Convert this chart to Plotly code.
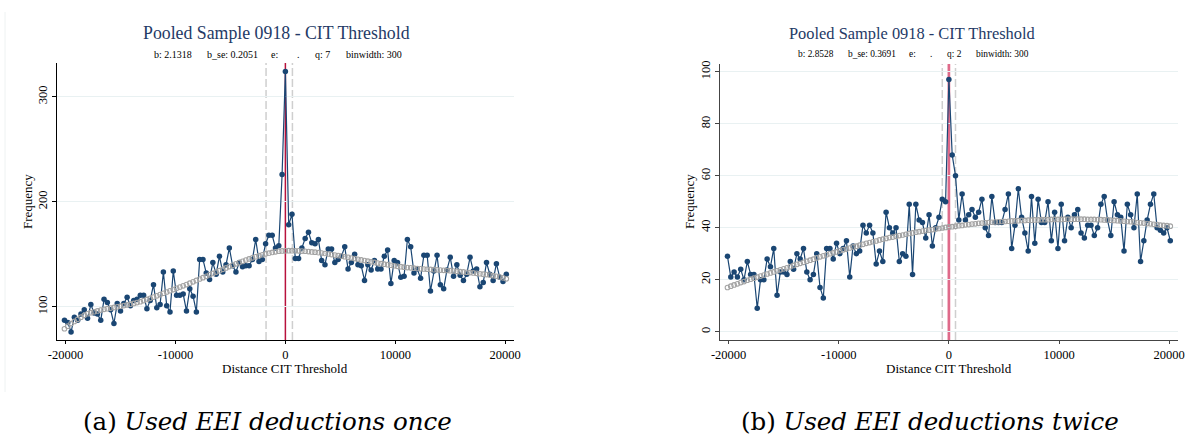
import plotly.graph_objects as go

# ---------------- data ----------------
bins = list(range(-20100, 20101, 300))  # bin centres (binwidth 300)

freq_once = [
    87, 85, 76, 90, 87, 93, 97, 89, 102, 94,
    93, 87, 107, 104, 97, 84, 103, 96, 103, 109,
    101, 106, 107, 111, 111, 98, 106, 121, 99, 102,
    133, 101, 95, 134, 111, 111, 112, 96, 117, 110,
    95, 145, 145, 132, 126, 142, 131, 148, 133, 140,
    156, 139, 133, 142, 138, 139, 139, 145, 164, 143,
    145, 160, 168, 168, 156, 158, 226, 324, 178, 188,
    146, 146, 156, 165, 171, 161, 160, 164, 144, 140,
    155, 155, 142, 145, 148, 157, 136, 142, 150, 140,
    139, 125, 140, 135, 144, 136, 136, 148, 154, 122,
    144, 142, 128, 129, 164, 157, 132, 136, 127, 149,
    149, 115, 134, 149, 121, 117, 135, 147, 129, 140,
    130, 125, 131, 147, 134, 136, 119, 123, 142, 131,
    125, 141, 128, 124, 131,
]

fit_once = [
    79.0, 81.5, 84.0, 86.0, 88.0, 90.0, 91.8, 93.3, 94.3, 95.2,
    96.0, 96.8, 97.5, 98.1, 98.7, 99.3, 99.9, 100.5, 101.1, 101.7,
    102.4, 103.1, 103.9, 104.8, 105.8, 106.9, 108.0, 109.2, 110.4, 111.6,
    112.8, 114.0, 115.2, 116.3, 117.5, 118.7, 119.9, 121.1, 122.4, 123.7,
    125.0, 126.4, 127.7, 129.0, 130.4, 131.7, 133.0, 134.3, 135.6, 136.9,
    138.2, 139.5, 140.8, 142.0, 143.2, 144.4, 145.5, 146.6, 147.6, 148.6,
    149.5, 150.3, 151.0, 151.7, 152.3, 152.8, 153.1, 153.3, 153.4, 153.4,
    153.3, 153.2, 153.0, 152.8, 152.5, 152.2, 151.9, 151.5, 151.1, 150.7,
    150.2, 149.7, 149.2, 148.7, 148.2, 147.6, 147.0, 146.4, 145.8, 145.2,
    144.6, 144.0, 143.4, 142.8, 142.2, 141.6, 141.0, 140.5, 140.0, 139.5,
    139.0, 138.5, 138.1, 137.7, 137.3, 137.0, 136.7, 136.4, 136.1, 135.9,
    135.7, 135.5, 135.3, 135.1, 134.9, 134.7, 134.5, 134.3, 134.0, 133.7,
    133.4, 133.1, 132.8, 132.5, 132.2, 131.8, 131.4, 131.0, 130.6, 130.1,
    129.6, 129.0, 128.3, 127.5, 126.6,
]

freq_twice = [
    29, 21, 23, 21, 24, 20, 27, 22, 22, 9,
    20, 20, 28, 25, 32, 14, 23, 23, 22, 27,
    24, 30, 28, 32, 23, 20, 22, 30, 17, 13,
    32, 32, 28, 34, 30, 32, 35, 21, 33, 30,
    31, 41, 38, 41, 38, 26, 31, 27, 46, 40,
    38, 40, 27, 30, 29, 49, 22, 49, 43, 42,
    36, 45, 33, 40, 44, 51, 50, 97, 68, 60,
    43, 53, 43, 45, 47, 44, 46, 51, 40, 37,
    52, 42, 42, 42, 47, 53, 32, 41, 55, 44,
    38, 31, 52, 34, 51, 42, 42, 50, 35, 46,
    32, 49, 35, 44, 40, 45, 47, 38, 36, 41,
    41, 37, 40, 49, 52, 43, 37, 50, 45, 44,
    31, 49, 45, 40, 53, 27, 35, 43, 49, 53,
    40, 39, 38, 40, 35,
]

fit_twice = [
    17.0, 17.5, 18.0, 18.4, 18.9, 19.3, 19.8, 20.2, 20.6, 21.0,
    21.4, 21.8, 22.2, 22.6, 23.0, 23.4, 23.8, 24.2, 24.6, 25.0,
    25.5, 25.9, 26.3, 26.7, 27.1, 27.5, 27.9, 28.4, 28.8, 29.2,
    29.6, 30.0, 30.3, 30.7, 31.1, 31.5, 31.8, 32.2, 32.6, 32.9,
    33.3, 33.6, 34.0, 34.3, 34.6, 34.9, 35.3, 35.6, 35.9, 36.2,
    36.4, 36.7, 37.0, 37.2, 37.5, 37.8, 38.0, 38.3, 38.5, 38.7,
    38.9, 39.1, 39.3, 39.5, 39.7, 39.9, 40.1, 40.3, 40.4, 40.6,
    40.8, 40.9, 41.1, 41.2, 41.4, 41.5, 41.7, 41.8, 41.9, 42.0,
    42.1, 42.2, 42.3, 42.4, 42.4, 42.5, 42.6, 42.6, 42.7, 42.8,
    42.8, 42.9, 42.9, 43.0, 43.0, 43.1, 43.1, 43.1, 43.2, 43.2,
    43.2, 43.2, 43.3, 43.3, 43.3, 43.3, 43.3, 43.3, 43.3, 43.2,
    43.2, 43.2, 43.1, 43.1, 43.0, 43.0, 42.9, 42.8, 42.7, 42.6,
    42.5, 42.4, 42.3, 42.2, 42.0, 41.9, 41.8, 41.6, 41.5, 41.3,
    41.2, 41.0, 40.9, 40.8, 40.6,
]

xtick_vals = [-20000, -10000, 0, 10000, 20000]
xtick_text = ["-20000", "-10000", "0", "10000", "20000"]
ytick_once = [100, 200, 300]
ytick_twice = [0, 20, 40, 60, 80, 100]

title_text = "Pooled Sample 0918 - CIT Threshold"
stats_once = ["b: 2.1318", "b_se: 0.2051", "e:", ".", "q: 7", "binwidth: 300"]
stats_twice = ["b: 2.8528", "b_se: 0.3691", "e:", ".", "q: 2", "binwidth: 300"]
captions = ["(a) <i>Used EEI deductions once</i>", "(b) <i>Used EEI deductions twice</i>"]

# ---------------- styling ----------------
W, H = 1186, 436
SERIF = "Liberation Serif, Times New Roman, Times, serif"
NAVY = "#1a4673"
TITLE_COL = "#243a66"
GRID = "#e9f1f2"
FIT_COL = "#a3a3a3"


def px_x(p):
    return p / W


def px_y(p):
    return 1 - p / H


fig = go.Figure()

# left panel
fig.add_trace(go.Scatter(x=bins, y=freq_once, mode="lines+markers",
                         line=dict(color=NAVY, width=1.2),
                         marker=dict(color=NAVY, size=5.5),
                         xaxis="x", yaxis="y", showlegend=False))
fig.add_trace(go.Scatter(x=bins, y=fit_once, mode="markers",
                         marker=dict(symbol="circle-open", color=FIT_COL, size=4.6,
                                     line=dict(width=1.1, color=FIT_COL)),
                         xaxis="x", yaxis="y", showlegend=False))
# right panel
fig.add_trace(go.Scatter(x=bins, y=freq_twice, mode="lines+markers",
                         line=dict(color=NAVY, width=1.2),
                         marker=dict(color=NAVY, size=5.5),
                         xaxis="x2", yaxis="y2", showlegend=False))
fig.add_trace(go.Scatter(x=bins, y=fit_twice, mode="markers",
                         marker=dict(symbol="circle-open", color=FIT_COL, size=4.6,
                                     line=dict(width=1.1, color=FIT_COL)),
                         xaxis="x2", yaxis="y2", showlegend=False))

tickfont = dict(family=SERIF, size=12.5, color="#000")

common_x = dict(tickmode="array", tickvals=xtick_vals, ticktext=xtick_text,
                showgrid=False, zeroline=False, showline=True, linewidth=1,
                ticks="outside", ticklen=3, tickwidth=1, tickfont=tickfont,
                range=[-20780, 20800], automargin=False)
common_y = dict(tickmode="array", showgrid=True, gridcolor=GRID, gridwidth=1,
                zeroline=False, showline=True, linewidth=1, ticks="outside",
                ticklen=4, tickwidth=1, tickangle=-90, tickfont=tickfont,
                automargin=False)

fig.update_layout(
    width=W, height=H, autosize=False,
    margin=dict(l=0, r=0, t=0, b=0, pad=0, autoexpand=False),
    paper_bgcolor="white", plot_bgcolor="white",
    font=dict(family=SERIF),
    xaxis=dict(domain=[px_x(57), px_x(514)], anchor="y", linecolor="#000",
               tickcolor="#000", **common_x),
    yaxis=dict(domain=[px_y(340), px_y(63)], anchor="x", tickvals=ytick_once,
               range=[68.3, 332.1], linecolor="#000", tickcolor="#000", **common_y),
    xaxis2=dict(domain=[px_x(720), px_x(1178)], anchor="y2", linecolor="#444",
                tickcolor="#444", **common_x),
    yaxis2=dict(domain=[px_y(340), px_y(64)], anchor="x2", tickvals=ytick_twice,
                range=[-3.2, 103], linecolor="#444", tickcolor="#444", **common_y),
)

shapes = []
# left panel reference lines
shapes.append(dict(type="line", xref="x", yref="y domain", x0=-1760, x1=-1760, y0=0, y1=1,
                   line=dict(color="#cfcfcf", width=1.5, dash="8px,3px"), layer="below"))
shapes.append(dict(type="line", xref="x", yref="y domain", x0=640, x1=640, y0=0, y1=1,
                   line=dict(color="#cfcfcf", width=1.5, dash="8px,3px"), layer="below"))
shapes.append(dict(type="line", xref="x", yref="y domain", x0=0, x1=0, y0=0, y1=1,
                   line=dict(color="#b8123c", width=1.5), layer="below"))
# right panel reference lines
shapes.append(dict(type="line", xref="x2", yref="y2 domain", x0=-600, x1=-600, y0=0, y1=1,
                   line=dict(color="#cfcfcf", width=1.5, dash="8px,3px"), layer="below"))
shapes.append(dict(type="line", xref="x2", yref="y2 domain", x0=600, x1=600, y0=0, y1=1,
                   line=dict(color="#cfcfcf", width=1.5, dash="8px,3px"), layer="below"))
shapes.append(dict(type="line", xref="x2", yref="y2 domain", x0=0, x1=0, y0=0, y1=1,
                   line=dict(color="#df6a8a", width=2.7), layer="below"))
# faint frame edge of the left graphic
shapes.append(dict(type="line", xref="paper", yref="paper", x0=px_x(5), x1=px_x(5),
                   y0=px_y(392), y1=px_y(12), line=dict(color="#eef2f2", width=1)))
fig.update_layout(shapes=shapes)

ann = []


def text(x, y, s, size, color="#000", angle=0, xanchor="center", family=SERIF):
    ann.append(dict(x=px_x(x), y=px_y(y), xref="paper", yref="paper", text=s,
                    showarrow=False, xanchor=xanchor, yanchor="middle", textangle=angle,
                    font=dict(family=family, size=size, color=color)))


# titles
text(276, 33, title_text, 17.8, TITLE_COL)
text(911.5, 33, title_text, 16.4, TITLE_COL)
# stat subtitles
for s, x in zip(stats_once, [152, 205, 269, 295, 313, 344]):
    text(x, 54, s, 10, xanchor="left")
for s, x in zip(stats_twice, [796, 846, 907, 928, 945, 974]):
    text(x, 54, s, 9.4, xanchor="left")
# axis titles
text(27, 202, "Frequency", 13, angle=-90)
text(689, 202, "Frequency", 13, angle=-90)
text(285, 368, "Distance CIT Threshold", 13)
text(949, 368, "Distance CIT Threshold", 13)
# captions
text(267, 421, captions[0], 24.5, family="DejaVu Serif")
text(930, 421, captions[1], 24.5, family="DejaVu Serif")

fig.update_layout(annotations=ann)

fig.write_html("out.html", config={"displayModeBar": False})
